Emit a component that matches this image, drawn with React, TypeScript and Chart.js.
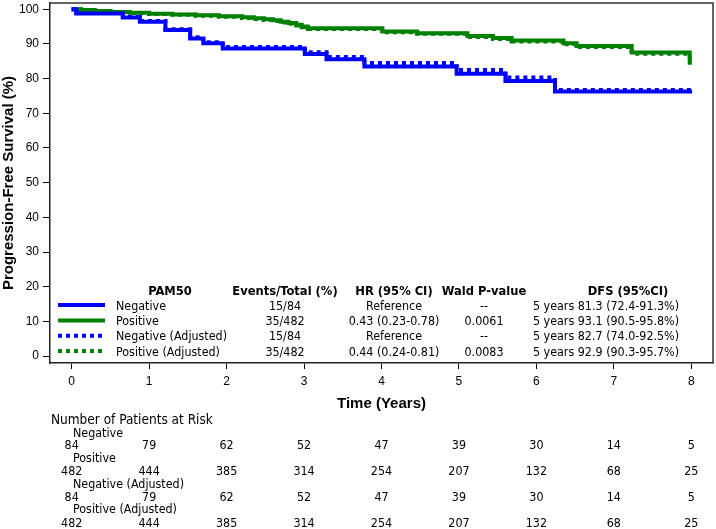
import React, { useEffect, useRef } from 'react';
import { Chart, registerables } from 'chart.js';

Chart.register(...registerables);

// ---------- data ----------
const xTicks = [0, 1, 2, 3, 4, 5, 6, 7, 8];
const yTicks = [0, 10, 20, 30, 40, 50, 60, 70, 80, 90, 100];

const negTimes = [0, 0.06, 0.66, 0.88, 1.21, 1.53, 1.70, 1.95, 3.01, 3.29, 3.78, 4.97, 5.60, 6.24, 8.01];
const negSurv = [100, 98.8, 97.6, 96.4, 94.0, 91.6, 90.2, 88.7, 87.1, 85.6, 83.5, 81.4, 79.3, 76.3, 76.3];
const negAdjSurv = [100, 98.9, 97.8, 96.6, 94.2, 91.9, 90.5, 89.1, 87.6, 86.2, 84.5, 82.5, 80.3, 76.7, 76.7];

const posTimes = [0, 0.12, 0.3, 0.5, 0.75, 1.0, 1.3, 1.6, 1.9, 2.2, 2.35, 2.48, 2.6, 2.7, 2.8, 2.9, 2.97, 3.05, 4.01, 4.46, 5.11, 5.44, 5.68, 6.35, 6.52, 7.23, 7.98];
const posSurv = [100, 99.8, 99.5, 99.2, 99.0, 98.7, 98.5, 98.3, 98.0, 97.7, 97.4, 97.1, 96.8, 96.4, 96.0, 95.5, 95.0, 94.5, 93.6, 93.1, 92.3, 91.7, 91.0, 90.2, 89.4, 87.5, 84.2];
const posAdjSurv = [100, 99.8, 99.5, 99.2, 98.9, 98.6, 98.4, 98.1, 97.8, 97.5, 97.2, 96.9, 96.6, 96.2, 95.8, 95.3, 94.8, 94.3, 93.4, 92.9, 92.0, 91.4, 90.7, 89.9, 89.1, 87.2, 84.0];

const seriesNames = ['Negative', 'Positive', 'Negative (Adjusted)', 'Positive (Adjusted)'];
const seriesColors = ['#0000ff', '#008000', '#0000ff', '#008000'];
const eventsTotal = ['15/84', '35/482', '15/84', '35/482'];
const hrText = ['Reference', '0.43 (0.23-0.78)', 'Reference', '0.44 (0.24-0.81)'];
const waldP = ['--', '0.0061', '--', '0.0083'];
const dfsText = ['5 years 81.3 (72.4-91.3%)', '5 years 93.1 (90.5-95.8%)', '5 years 82.7 (74.0-92.5%)', '5 years 92.9 (90.3-95.7%)'];
const tableHeaders = ['PAM50', 'Events/Total (%)', 'HR (95% CI)', 'Wald P-value', 'DFS (95%CI)'];

const riskTitle = 'Number of Patients at Risk';
const riskNeg = [84, 79, 62, 52, 47, 39, 30, 14, 5];
const riskPos = [482, 444, 385, 314, 254, 207, 132, 68, 25];
const riskNegAdj = [84, 79, 62, 52, 47, 39, 30, 14, 5];
const riskPosAdj = [482, 444, 385, 314, 254, 207, 132, 68, 25];

const xTitle = 'Time (Years)';
const yTitle = 'Progression-Free Survival (%)';

// ---------- helpers ----------
const toPoints = (ts: number[], ss: number[]) => ts.map((t, i) => ({ x: t, y: ss[i] }));

const TABLE_FONT = "'DejaVu Sans Condensed', 'DejaVu Sans', sans-serif";
const AXIS_FONT = "'Liberation Sans', Arial, sans-serif";

const tablePlugin = {
  id: 'kmTables',
  afterDraw(chart: any) {
    const { ctx, chartArea } = chart;
    const xs = chart.scales.x;
    ctx.save();
    // frame (top & right)
    ctx.strokeStyle = '#333';
    ctx.lineWidth = 1.5;
    ctx.beginPath();
    ctx.moveTo(chartArea.left, chartArea.top);
    ctx.lineTo(chartArea.right, chartArea.top);
    ctx.lineTo(chartArea.right, chartArea.bottom);
    ctx.stroke();

    // legend table
    ctx.fillStyle = '#000';
    ctx.textBaseline = 'alphabetic';
    ctx.font = `bold 12.8px ${TABLE_FONT}`;
    const headerY = 295;
    const colCenters = [170, 285, 394, 484, 628];
    ctx.textAlign = 'center';
    tableHeaders.forEach((h, i) => ctx.fillText(h, colCenters[i], headerY));

    const rowY = [309.6, 324.9, 340.2, 355.5];
    chart.data.datasets.forEach((ds: any, i: number) => {
      const cy = rowY[i] - 4.5;
      ctx.save();
      ctx.strokeStyle = ds.borderColor;
      ctx.lineWidth = ds.borderWidth;
      ctx.setLineDash(ds.borderDash || []);
      ctx.lineCap = 'butt';
      ctx.beginPath();
      ctx.moveTo(58, cy);
      ctx.lineTo(105, cy);
      ctx.stroke();
      ctx.restore();
      ctx.font = `12.4px ${TABLE_FONT}`;
      ctx.textAlign = 'left';
      ctx.fillText(seriesNames[i], 116, rowY[i]);
      ctx.textAlign = 'center';
      ctx.fillText(eventsTotal[i], colCenters[1], rowY[i]);
      ctx.fillText(hrText[i], colCenters[2], rowY[i]);
      ctx.fillText(waldP[i], colCenters[3], rowY[i]);
      ctx.fillText(dfsText[i], 606, rowY[i]);
    });

    // risk table
    ctx.textAlign = 'left';
    ctx.font = `13.5px ${TABLE_FONT}`;
    ctx.fillText(riskTitle, 51, 424);
    const groups = [riskNeg, riskPos, riskNegAdj, riskPosAdj];
    const labelY = [437.3, 462.3, 488, 513.3];
    const numY = [449.3, 475, 501, 526.7];
    groups.forEach((vals, gi) => {
      ctx.font = `12.4px ${TABLE_FONT}`;
      ctx.textAlign = 'left';
      ctx.fillText(seriesNames[gi], 73, labelY[gi]);
      ctx.textAlign = 'center';
      vals.forEach((v, k) => {
        ctx.fillText(String(v), xs.getPixelForValue(xTicks[k]), numY[gi]);
      });
    });
    ctx.restore();
  },
};

export default function App() {
  const ref = useRef<HTMLCanvasElement | null>(null);
  useEffect(() => {
    if (!ref.current) return;
    const chart = new Chart(ref.current, {
      type: 'line',
      data: {
        datasets: [
          { label: seriesNames[0], data: toPoints(negTimes, negSurv), borderColor: seriesColors[0], borderWidth: 4, stepped: true, pointRadius: 0, fill: false },
          { label: seriesNames[1], data: toPoints(posTimes, posSurv), borderColor: seriesColors[1], borderWidth: 4, stepped: true, pointRadius: 0, fill: false },
          { label: seriesNames[2], data: toPoints(negTimes, negAdjSurv), borderColor: seriesColors[2], borderWidth: 4, borderDash: [4, 4], stepped: true, pointRadius: 0, fill: false },
          { label: seriesNames[3], data: toPoints(posTimes, posAdjSurv), borderColor: seriesColors[3], borderWidth: 4, borderDash: [4, 4], stepped: true, pointRadius: 0, fill: false },
        ],
      },
      options: {
        animation: false,
        responsive: false,
        maintainAspectRatio: false,
        layout: { padding: { left: 0, top: 3, right: 3, bottom: 114 } },
        plugins: { legend: { display: false }, tooltip: { enabled: false } },
        scales: {
          x: {
            type: 'linear',
            min: -0.28,
            max: 8.28,
            afterBuildTicks: (s: any) => { s.ticks = xTicks.map((v) => ({ value: v })); },
            afterFit: (s: any) => { s.height = 52; s.paddingLeft = 0; s.paddingRight = 0; },
            grid: { display: true, drawOnChartArea: false, drawTicks: true, tickLength: 6, color: '#000', lineWidth: 1 },
            border: { display: true, color: '#222', width: 1.5 },
            ticks: { color: '#000', padding: 5, maxRotation: 0, font: { family: AXIS_FONT, size: 12 } },
            title: { display: true, text: xTitle, color: '#000', padding: { top: 0, bottom: 2 }, font: { family: AXIS_FONT, size: 15, weight: 'bold' } },
          },
          y: {
            type: 'linear',
            min: -2,
            max: 101.8,
            afterBuildTicks: (s: any) => { s.ticks = yTicks.map((v) => ({ value: v })); },
            afterFit: (s: any) => { s.width = 50; s.paddingTop = 0; s.paddingBottom = 0; },
            grid: { display: true, drawOnChartArea: false, drawTicks: true, tickLength: 7, color: '#000', lineWidth: 1 },
            border: { display: true, color: '#222', width: 1.5 },
            ticks: { color: '#000', padding: 4, font: { family: AXIS_FONT, size: 12 } },
            title: { display: true, text: yTitle, color: '#000', padding: { top: 0, bottom: 0 }, font: { family: AXIS_FONT, size: 15, weight: 'bold' } },
          },
        },
      },
      plugins: [tablePlugin],
    } as any);
    return () => chart.destroy();
  }, []);
  return (
    <div style={{ position: 'absolute', left: 0, top: 0, width: 716, height: 529, background: '#fff' }}>
      <canvas ref={ref} width={716} height={529} style={{ display: 'block' }} />
    </div>
  );
}
